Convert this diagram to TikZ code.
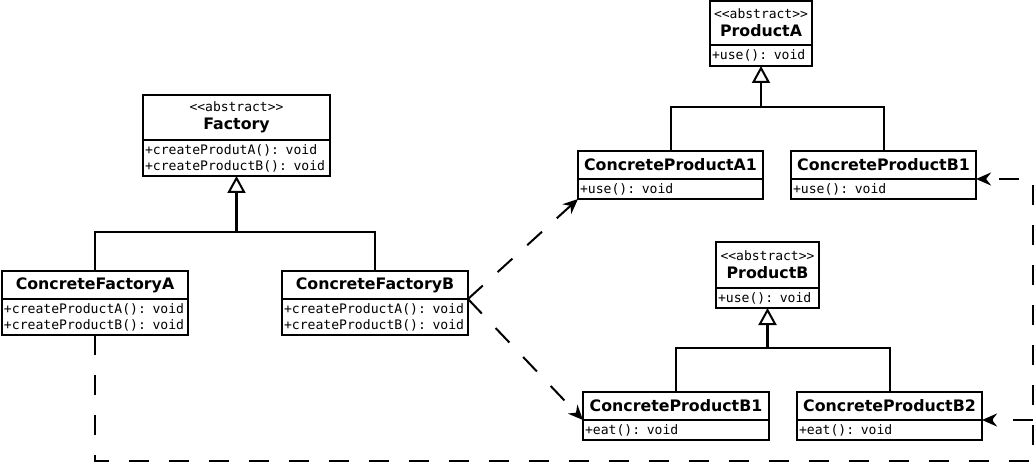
\documentclass[tikz,border=0pt]{standalone}
\usepackage{fontspec}
\setmainfont{DejaVu Sans}
\setmonofont{DejaVu Sans Mono}
\usetikzlibrary{arrows.meta,positioning}
\newcommand{\abstag}{{\mdseries\ttfamily\fontsize{13}{18}\selectfont <{}<abstract>{}>}}

\begin{document}
\begin{tikzpicture}[x=1pt, y=-1pt, line width=2pt,
  head/.style={draw, outer sep=0pt, inner sep=2pt, anchor=north west, align=center,
    font=\fontsize{15.8}{18}\selectfont\bfseries, minimum height=28pt},
  ops/.style={draw, outer sep=0pt, inner xsep=2pt, inner ysep=0pt, align=left,
    font=\ttfamily\fontsize{13.1}{16}\selectfont, below=0pt of #1},
  inherit/.style={line width=2.4pt, -{Triangle[open,length=17pt,width=18pt,line width=2pt]}},
  dep/.style={-{Stealth[length=15pt,width=13pt]}, dash pattern=on 20pt off 20pt}]
  \useasboundingbox (0,0) rectangle (1035,462);
  % factories
  \node[head, minimum width=187pt, minimum height=45pt] (factory) at (143,95) {\abstag\\Factory};
  \node[ops=factory, text width=183pt, minimum height=36pt] (factory-m) {+createProdutA(): void\\+createProductB(): void};
  \node[head, minimum width=186pt] (cfa) at (2,271) {ConcreteFactoryA};
  \node[ops=cfa, text width=182pt, minimum height=36pt] (cfa-m) {+createProductA(): void\\+createProductB(): void};
  \node[head, minimum width=186pt] (cfb) at (282,271) {ConcreteFactoryB};
  \node[ops=cfb, text width=182pt, minimum height=36pt] (cfb-m) {+createProductA(): void\\+createProductB(): void};
  % products A
  \node[head, minimum width=102pt, minimum height=44pt] (pa) at (710,1) {\abstag\\ProductA};
  \node[ops=pa, text width=98pt, minimum height=21pt] (pa-m) {+use(): void};
  \node[head, minimum width=185pt] (cpa1) at (578,151) {ConcreteProductA1};
  \node[ops=cpa1, text width=181pt, minimum height=20pt] (cpa1-m) {+use(): void};
  \node[head, minimum width=185pt] (cpb1-a) at (791,151) {ConcreteProductB1};
  \node[ops=cpb1-a, text width=181pt, minimum height=20pt] (cpb1-a-m) {+use(): void};
  % products B
  \node[head, minimum width=103pt, minimum height=46pt] (pb) at (716,242) {\abstag\\ProductB};
  \node[ops=pb, text width=99pt, minimum height=20pt] (pb-m) {+use(): void};
  \node[head, minimum width=186pt] (cpb1-b) at (583,392) {ConcreteProductB1};
  \node[ops=cpb1-b, text width=182pt, minimum height=20pt] (cpb1-b-m) {+eat(): void};
  \node[head, minimum width=185pt] (cpb2) at (797,392) {ConcreteProductB2};
  \node[ops=cpb2, text width=181pt, minimum height=20pt] (cpb2-m) {+eat(): void};
  % inheritance
  \coordinate (fbus) at (236.5,232);
  \coordinate (pabus) at (761,107);
  \coordinate (pbbus) at (767.5,348);
  \draw (cfa.north) |- (fbus);
  \draw (cfb.north) |- (fbus);
  \draw[inherit] (fbus) -- (factory-m.south);
  \draw (cpa1.north) |- (pabus);
  \draw (cpb1-a.north) |- (pabus);
  \draw[inherit] (pabus) -- (pa-m.south);
  \draw (cpb1-b.north) |- (pbbus);
  \draw (cpb2.north) |- (pbbus);
  \draw[inherit] (pbbus) -- (pb-m.south);
  % creates
  \coordinate (loop) at (1033,461);
  \draw[dep] (cfb.south east) -- (cpa1-m.south west);
  \draw[dep] (cfb.south east) -- (cpb1-b.south west);
  \draw[dep] (cfa-m.south) |- (loop) |- (cpb1-a.south east);
  \draw[dep] (loop |- cpb2.south east) -- (cpb2.south east);
\end{tikzpicture}
\end{document}
